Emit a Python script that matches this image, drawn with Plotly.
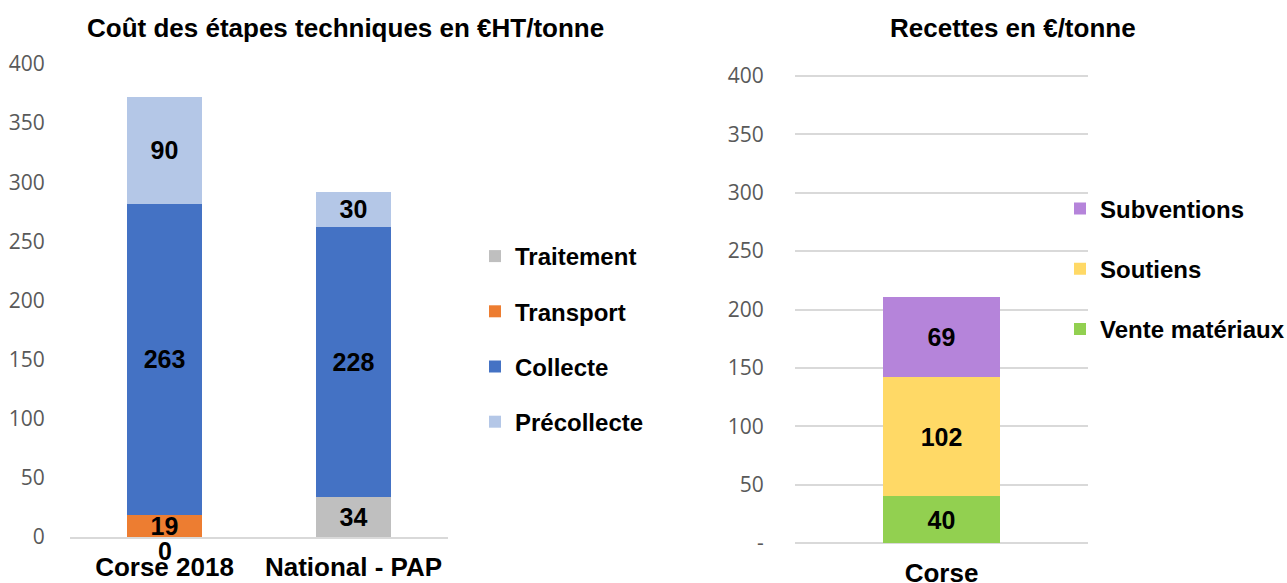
import plotly.graph_objects as go

# ---- Data ----
cost_categories = ["Corse 2018", "National - PAP"]
traitement = [0, 34]
transport = [19, 0]
collecte = [263, 228]
precollecte = [90, 30]

rev_categories = ["Corse"]
vente_materiaux = [40]
soutiens = [102]
subventions = [69]

y_ticks = [0, 50, 100, 150, 200, 250, 300, 350, 400]
left_tick_text = [str(v) for v in y_ticks]
right_tick_text = ["-"] + [str(v) for v in y_ticks[1:]]

# ---- Styles ----
BOLD = "Liberation Sans, Arial, sans-serif"
TICK = "Open Sans, sans-serif"
W, H = 1287, 583


def labels(vals):
    return [str(v) if v != 0 else "" for v in vals]


fig = go.Figure()

left_series = [
    ("Traitement", traitement, "#BFBFBF"),
    ("Transport", transport, "#ED7D31"),
    ("Collecte", collecte, "#4472C4"),
    ("Précollecte", precollecte, "#B4C7E7"),
]
for i, (name, vals, color) in enumerate(left_series):
    fig.add_trace(go.Bar(
        x=cost_categories, y=vals, name=name, marker=dict(color=color, line=dict(width=0)),
        text=labels(vals), textposition="inside", insidetextanchor="middle", textangle=0,
        textfont=dict(family=BOLD, size=25, color="black", weight="bold"),
        width=0.4, xaxis="x", yaxis="y", legend="legend", legendgroup=name,
        legendrank=i + 1, hoverinfo="x+y+name",
    ))

right_series = [
    ("Vente matériaux", vente_materiaux, "#92D050"),
    ("Soutiens", soutiens, "#FFD966"),
    ("Subventions", subventions, "#B584DA"),
]
for i, (name, vals, color) in enumerate(right_series):
    fig.add_trace(go.Bar(
        x=rev_categories, y=vals, name=name, marker=dict(color=color, line=dict(width=0)),
        text=labels(vals), textposition="inside", insidetextanchor="middle", textangle=0,
        textfont=dict(family=BOLD, size=25, color="black", weight="bold"),
        width=0.4, xaxis="x2", yaxis="y2", legend="legend2", legendgroup=name,
        legendrank=len(right_series) - i, hoverinfo="x+y+name",
    ))

annotations = [
    dict(text="Coût des étapes techniques en €HT/tonne", x=345 / W, y=1 - 28 / H,
         xref="paper", yref="paper", showarrow=False, xanchor="center", yanchor="middle",
         font=dict(family=BOLD, size=26, color="black", weight="bold")),
    dict(text="Recettes en €/tonne", x=1013 / W, y=1 - 28 / H,
         xref="paper", yref="paper", showarrow=False, xanchor="center", yanchor="middle",
         font=dict(family=BOLD, size=26, color="black", weight="bold")),
]
# zero-valued Traitement labels shown just below the baseline
for cat, v in zip(cost_categories, traitement):
    if v == 0:
        annotations.append(dict(text=str(v), x=cat, y=v, xref="x", yref="y", showarrow=False,
                                yshift=-14, font=dict(family=BOLD, size=25, color="black", weight="bold")))

# right axis: 0 at y=543 px, 400 at y=76 px; pad the range by 1 so edge gridlines are drawn
r_px = (543 - 76) / 400.0
r_lo, r_hi = -1, 401
r_bottom = 543 + (0 - r_lo) * r_px
r_top = 76 - (r_hi - 400) * r_px

fig.update_layout(
    width=W, height=H, barmode="stack",
    margin=dict(l=0, r=0, t=0, b=0, autoexpand=False),
    paper_bgcolor="white", plot_bgcolor="white",
    showlegend=True,
    uniformtext=dict(minsize=25, mode="show"),
    xaxis=dict(domain=[70 / W, 448 / W], anchor="y", showline=True, linecolor="#D9D9D9", linewidth=2,
               ticks="outside", ticklen=6, tickcolor="rgba(0,0,0,0)",
               tickfont=dict(family=BOLD, size=26, color="black", weight="bold"), fixedrange=True),
    yaxis=dict(domain=[1 - 537 / H, 1 - 64 / H], anchor="x", range=[0, 400], showgrid=False,
               zeroline=False, showline=False, tickvals=y_ticks, ticktext=left_tick_text,
               ticks="outside", ticklen=20, tickcolor="rgba(0,0,0,0)",
               tickfont=dict(family=TICK, size=21, color="#595959")),
    xaxis2=dict(domain=[795 / W, 1088 / W], anchor="y2", showline=False,
                ticks="outside", ticklen=6, tickcolor="rgba(0,0,0,0)",
                tickfont=dict(family=BOLD, size=26, color="black", weight="bold")),
    yaxis2=dict(domain=[1 - r_bottom / H, 1 - r_top / H], anchor="x2", range=[r_lo, r_hi], showgrid=True,
                gridcolor="#D9D9D9", gridwidth=1.5, zeroline=False, showline=False,
                tickvals=y_ticks, ticktext=right_tick_text,
                ticks="outside", ticklen=26, tickcolor="rgba(0,0,0,0)",
                tickfont=dict(family=TICK, size=21, color="#595959")),
    legend=dict(x=475 / W, y=1 - 339 / H, xanchor="left", yanchor="middle",
                traceorder="grouped", tracegroupgap=21, bgcolor="rgba(0,0,0,0)",
                font=dict(family=BOLD, size=24, color="black", weight="bold")),
    legend2=dict(x=1060 / W, y=1 - 269 / H, xanchor="left", yanchor="middle",
                 traceorder="grouped", tracegroupgap=26, bgcolor="rgba(0,0,0,0)",
                 font=dict(family=BOLD, size=24, color="black", weight="bold")),
    annotations=annotations,
)

fig.write_html("out.html", config={"displayModeBar": False},
               post_script="document.body.style.margin='0';document.body.style.overflow='hidden';")
